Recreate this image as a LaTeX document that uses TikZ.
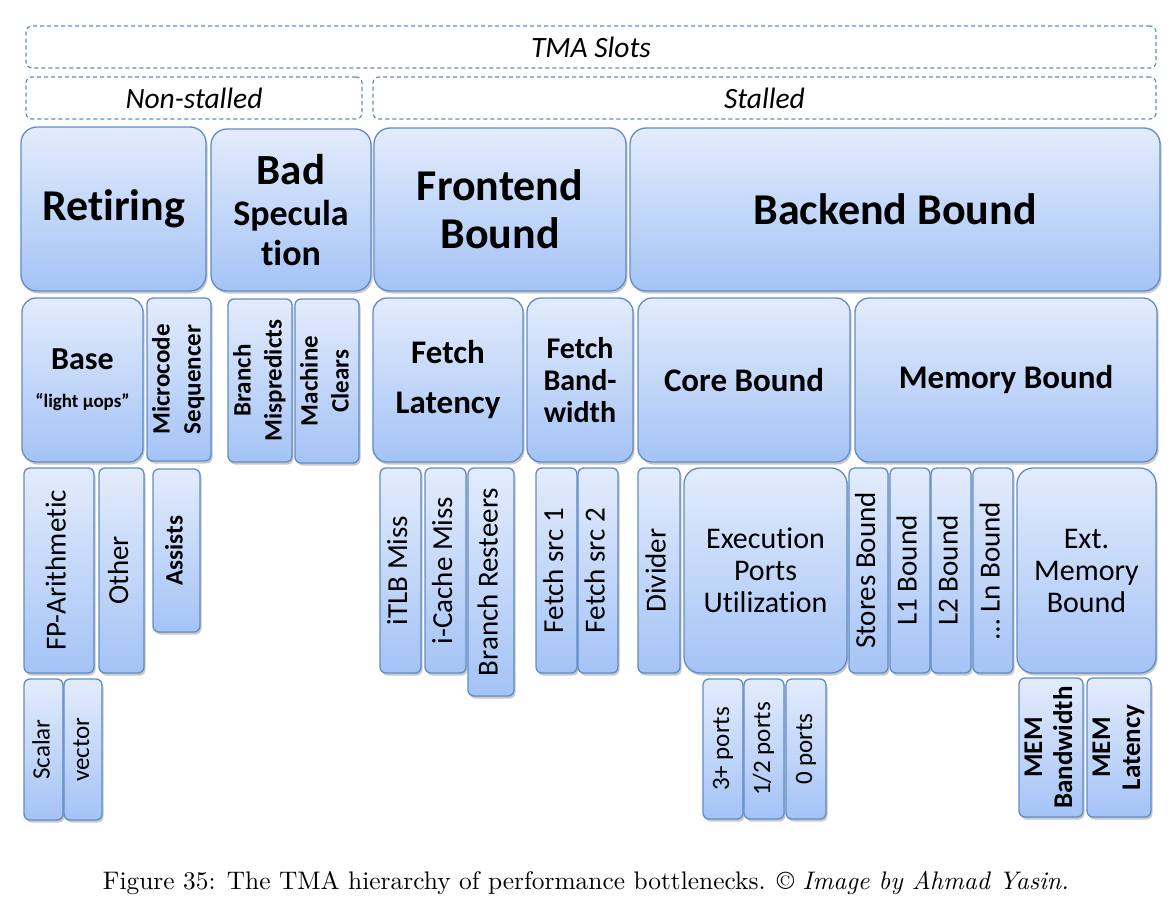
\documentclass[tikz,border=0pt]{standalone}
\usepackage{fontspec}
\usepackage{graphicx}
\usetikzlibrary{shadows}
\newfontfamily\calib[Ligatures=NoCommon]{Carlito}
\definecolor{bordc}{RGB}{96,140,200}
\definecolor{topc}{RGB}{227,236,252}
\definecolor{botc}{RGB}{164,195,246}
\definecolor{dashc}{RGB}{96,140,200}
\newcommand\fsz[2]{\fontsize{#1}{#2}\selectfont}
\newcommand\rot[1]{\rotatebox{90}{\begin{tabular}{@{}c@{}}#1\end{tabular}}}
\tikzset{
  bx/.style={draw=bordc, line width=1.3pt, rounded corners=6pt,
    top color=topc, bottom color=botc, inner sep=0pt, outer sep=0pt,
    drop shadow={shadow xshift=1.5pt, shadow yshift=-2.5pt, opacity=0.3, fill=black!70},
    text=black, align=center, font=\calib},
  lone/.style={bx, rounded corners=16pt, font=\calib\bfseries\fsz{44}{48}},
  ltwo/.style={bx, rounded corners=14pt, font=\calib\bfseries\fsz{33}{32}},
  rb/.style={bx, font=\calib\bfseries\fsz{25}{31}},
  rbm/.style={bx, font=\calib\bfseries\fsz{27}{30}},
  rr/.style={bx, font=\calib\fsz{29}{33}},
  wr/.style={bx, rounded corners=16pt, font=\calib\fsz{30}{32}},
  rs/.style={bx, font=\calib\fsz{25}{30}},
  dbox/.style={draw=dashc, line width=1.2pt, dash pattern=on 4pt off 3pt,
    rounded corners=6pt, inner sep=0pt, outer sep=0pt, text=black,
    font=\calib\itshape\fsz{29.5}{32}},
}
% #1 style, #2 name, #3 x1, #4 y1, #5 x2, #6 y2, #7 text
\newcommand\bx[7][bx]{%
  \node[#1, minimum width={#5-#3}, minimum height={#6-#4}]
    (#2) at ({(#3+#5)/2},{(#4+#6)/2}) {#7};}
\begin{document}
\begin{tikzpicture}[x=1pt,y=-1pt]
\fill[white] (0,0) rectangle (1174,904);
\useasboundingbox (0,0) rectangle (1174,904);
% dashed header boxes
\bx[dbox]{slots}{26}{26}{1156}{68}{TMA Slots}
\bx[dbox]{nonst}{26}{77}{362}{119}{Non-stalled}
\bx[dbox]{stall}{373}{77}{1156}{119}{Stalled}
% level 1
\bx[lone]{ret}{21}{127}{206}{291}{Retiring}
\bx[lone]{bad}{211}{129}{371}{291}{\fsz{43}{45}Bad\\[-7pt]\fsz{36}{40}Specula\\[-8pt]\fsz{36}{40}tion}
\bx[lone]{fe}{374}{128}{626}{291}{Frontend\\Bound}
\bx[lone]{be}{630}{128}{1160}{291}{Backend Bound}
% level 2
\bx[ltwo]{base}{22}{298}{143}{462}{\fsz{32}{32}Base\\[6pt]\fsz{19}{20}“light μops”}
\bx[rb]{mcs}{147}{298}{211}{461}{\rot{Microcode\\Sequencer}}
\bx[rb]{bm}{228}{299}{292}{462}{\rot{Branch\\Mispredicts}}
\bx[rb]{mc}{295}{299}{359}{463}{\rot{Machine\\Clears}}
\bx[ltwo]{fl}{373}{298}{523}{462}{Fetch\\[18pt]Latency}
\bx[ltwo]{fb}{527}{298}{633}{462}{\fsz{30}{32}Fetch\\\fsz{30}{32}Band-\\\fsz{30}{32}width}
\bx[ltwo]{cb}{638}{298}{850}{462}{Core Bound}
\bx[ltwo]{mb}{855}{298}{1157}{462}{Memory Bound}
% level 3
\bx[rr]{fp}{24}{468}{94}{673}{\rot{FP-Arithmetic}}
\bx[rr]{oth}{99}{468}{144}{673}{\rot{Other}}
\bx[rb]{ast}{153}{469}{200}{632}{\rot{Assists}}
\bx[rr]{itlb}{380}{468}{421}{673}{\rot{iTLB Miss}}
\bx[rr]{icm}{425}{468}{466}{673}{\rot{i-Cache Miss}}
\bx[rr]{brs}{468}{468}{514}{696}{\rot{Branch Resteers}}
\bx[rr]{fsa}{536}{468}{577}{673}{\rot{Fetch src 1}}
\bx[rr]{fsb}{578}{468}{618}{673}{\rot{Fetch src 2}}
\bx[rr]{div}{638}{468}{680}{673}{\rot{Divider}}
\bx[wr]{epu}{684}{468}{847}{673}{Execution\\Ports\\Utilization}
\bx[rr]{sb}{849}{468}{888}{673}{\rot{Stores Bound}}
\bx[rr]{lA}{890}{468}{930}{673}{\rot{L1 Bound}}
\bx[rr]{lB}{931}{468}{971}{673}{\rot{L2 Bound}}
\bx[rr]{lN}{973}{468}{1013}{673}{\rot{… Ln Bound}}
\bx[wr]{emb}{1017}{468}{1156}{673}{Ext.\\Memory\\Bound}
% level 4
\bx[rs]{sca}{24}{679}{63}{820}{\rot{Scalar}}
\bx[rs]{vec}{64}{679}{102}{820}{\rot{vector}}
\bx[rs]{pA}{703}{679}{743}{819}{\rot{3+ ports}}
\bx[rs]{pB}{744}{679}{784}{819}{\rot{1/2 ports}}
\bx[rs]{pC}{786}{679}{826}{819}{\rot{0 ports}}
\bx[rbm]{mbw}{1019}{678}{1083}{817}{\rot{MEM\\Bandwidth}}
\bx[rbm]{mlat}{1087}{678}{1151}{817}{\rot{MEM\\Latency}}
% caption
\node (cap) at (586,883) {\resizebox{966pt}{!}{Figure 35: The TMA hierarchy of performance bottlenecks. \textcopyright{} \textit{Image by Ahmad Yasin.}}};
\end{tikzpicture}
\end{document}
